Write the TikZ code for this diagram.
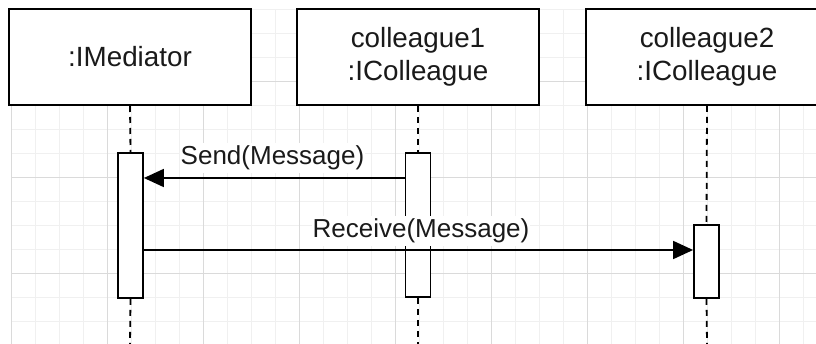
\documentclass[tikz,border=0pt]{standalone}
\usepackage{fontspec}
\setmainfont{Liberation Sans}
\usetikzlibrary{arrows.meta}
\definecolor{gridminor}{HTML}{F0F0F0}
\definecolor{gridmajor}{HTML}{DADADA}
\definecolor{ink}{HTML}{1A1A1A}
\tikzset{
  minorline/.style={draw=gridminor, line width=1pt},
  majorline/.style={draw=gridmajor, line width=1pt},
  objbox/.style={draw=black, fill=white, line width=2pt, minimum width=242pt, minimum height=96pt, inner sep=0pt, align=center, text=ink, font=\fontsize{27.8}{33}\selectfont},
  actbox/.style={draw=black, fill=white, line width=1.8pt, minimum width=25pt, inner sep=0pt},
  lifeline/.style={draw=black, line width=1.8pt, dash pattern=on 6pt off 5pt},
  msgline/.style={draw=black, line width=1.8pt, -{Triangle[length=20pt,width=18pt]}},
  msglabel/.style={fill=white, inner xsep=1pt, inner ysep=3pt, text=ink, font=\fontsize{26}{30}\selectfont, anchor=base}
}
\begin{document}
\begin{tikzpicture}[x=1pt,y=-1pt]
\useasboundingbox (0,0) rectangle (816,344);
% grid
\begin{scope}
  \clip (10.5,9.5) rectangle (816,344);
  \foreach \x in {11,35,...,816} \draw[minorline] (\x,10) -- (\x,344);
  \foreach \y in {10,34,...,344} \draw[minorline] (11,\y) -- (816,\y);
  \foreach \x in {11,107,...,816} \draw[majorline] (\x,10) -- (\x,344);
  \foreach \y in {82,178,274} \draw[majorline] (11,\y) -- (816,\y);
\end{scope}
% object boxes
\node[objbox] (med) at (130,57) {:IMediator};
\node[objbox] (col1) at (418,57) {colleague1\\:IColleague};
\node[objbox] (col2) at (707,57) {colleague2\\:IColleague};
% lifeline ends
\coordinate (medend) at (130,344);
\coordinate (col1end) at (418,344);
\coordinate (col2end) at (707,344);
% activation boxes
\node[actbox, minimum height=145pt] (amed) at (130.5,225.5) {};
\node[actbox, minimum height=144pt] (acol1) at (418,225) {};
\node[actbox, minimum height=73pt] (acol2) at (706.5,261.5) {};
% lifelines
\draw[lifeline] (med.south) -- (amed.north);
\draw[lifeline] (amed.south) -- (medend);
\draw[lifeline] (col1.south) -- (acol1.north);
\draw[lifeline] (acol1.south) -- (col1end);
\draw[lifeline] (col2.south) -- (acol2.north);
\draw[lifeline] (acol2.south) -- (col2end);
% redraw activation boxes over lifelines
\node[actbox, minimum height=145pt] at (amed) {};
\node[actbox, minimum height=144pt] at (acol1) {};
\node[actbox, minimum height=73pt] at (acol2) {};
% messages
\coordinate (sendy) at (0,178);
\coordinate (recvy) at (0,250);
\draw[msgline] (acol1.west |- sendy) -- (amed.east |- sendy);
\draw[msgline] (amed.east |- recvy) -- (acol2.west |- recvy);
\node[msglabel] (sendlbl) at (272.5,164.5) {Send(Message)};
\node[msglabel] (recvlbl) at (421,237.5) {Receive(Message)};
\end{tikzpicture}
\end{document}
